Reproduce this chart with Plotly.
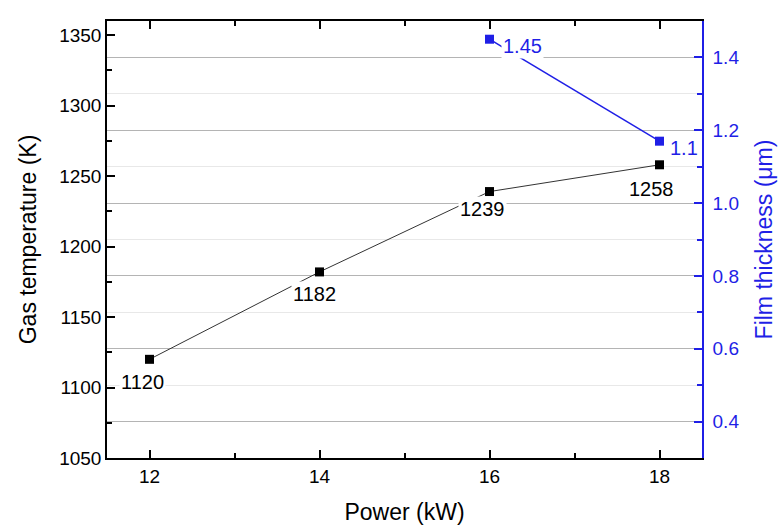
import plotly.graph_objects as go

power = [12, 14, 16, 18]
gas_temp = [1120, 1182, 1239, 1258]
gas_labels = ["1120", "1182", "1239", "1258"]
film_power = [16, 18]
film_thick = [1.45, 1.17]
film_labels = ["1.45", "1.1"]

BLUE = "#1f1fe6"
FONT = "Liberation Sans, Arial, sans-serif"

fig = go.Figure()
fig.add_trace(go.Scatter(
    x=power, y=gas_temp, mode="lines+markers",
    line=dict(color="#333333", width=1),
    marker=dict(symbol="square", size=9, color="black"),
    yaxis="y", showlegend=False))
fig.add_trace(go.Scatter(
    x=film_power, y=film_thick, mode="lines+markers",
    line=dict(color=BLUE, width=1.5),
    marker=dict(symbol="square", size=9, color=BLUE),
    yaxis="y2", showlegend=False))

gas_shifts = [(-7, -23), (-5, -22), (-7, -17), (-8, -24)]
for xv, yv, t, (dx, dy) in zip(power, gas_temp, gas_labels, gas_shifts):
    fig.add_annotation(x=xv, y=yv, xref="x", yref="y", text=t, showarrow=False,
                       xshift=dx, yshift=dy, bgcolor="white",
                       font=dict(family=FONT, size=20, color="black"))
film_shifts = [(33, -7), (24, -7)]
for xv, yv, t, (dx, dy) in zip(film_power, film_thick, film_labels, film_shifts):
    fig.add_annotation(x=xv, y=yv, xref="x", yref="y2", text=t, showarrow=False,
                       xshift=dx, yshift=dy, bgcolor="white",
                       font=dict(family=FONT, size=20, color=BLUE))

fig.update_layout(
    width=779, height=531,
    margin=dict(l=107, r=77, t=21, b=73, autoexpand=False),
    paper_bgcolor="white", plot_bgcolor="white",
    font=dict(family=FONT, size=19, color="black"),
    xaxis=dict(
        range=[11.5, 18.5], tickvals=[12, 14, 16, 18], automargin=False,
        ticks="inside", ticklen=8, tickwidth=1.5, tickcolor="black",
        minor=dict(ticks="inside", dtick=1, tick0=0, ticklen=5, tickwidth=1.5, tickcolor="black"),
        showline=True, linecolor="black", linewidth=1.5, mirror="ticks",
        showgrid=False, zeroline=False,
        title=dict(text="Power (kW)", font=dict(size=23), standoff=18),
        tickfont=dict(size=19),
    ),
    yaxis=dict(
        range=[1050, 1360], tickvals=[1050, 1100, 1150, 1200, 1250, 1300, 1350],
        automargin=False,
        ticks="inside", ticklen=8, tickwidth=1.5, tickcolor="black",
        minor=dict(ticks="inside", dtick=25, tick0=0, ticklen=5, tickwidth=1.5, tickcolor="black"),
        showline=True, linecolor="black", linewidth=1.5,
        showgrid=False, zeroline=False,
        title=dict(text="Gas temperature (K)", font=dict(size=23), standoff=16),
        tickfont=dict(size=19),
    ),
    yaxis2=dict(
        range=[0.3, 1.5], tickvals=[0.4, 0.6, 0.8, 1.0, 1.2, 1.4], tickformat=".1f",
        overlaying="y", side="right", automargin=False,
        ticks="inside", ticklen=8, tickwidth=1.5, tickcolor=BLUE,
        minor=dict(ticks="inside", dtick=0.1, tick0=0, ticklen=5, tickwidth=1.5, tickcolor=BLUE,
                   showgrid=True, gridcolor="#e8e8e8", gridwidth=1),
        showline=True, linecolor=BLUE, linewidth=1.5,
        showgrid=True, gridcolor="#b4b4b4", gridwidth=1.2, zeroline=False,
        ticklabelstandoff=5,
        title=dict(text="Film thickness (μm)", font=dict(size=23, color=BLUE), standoff=18),
        tickfont=dict(size=19, color=BLUE),
    ),
)

fig.write_html("out.html")
